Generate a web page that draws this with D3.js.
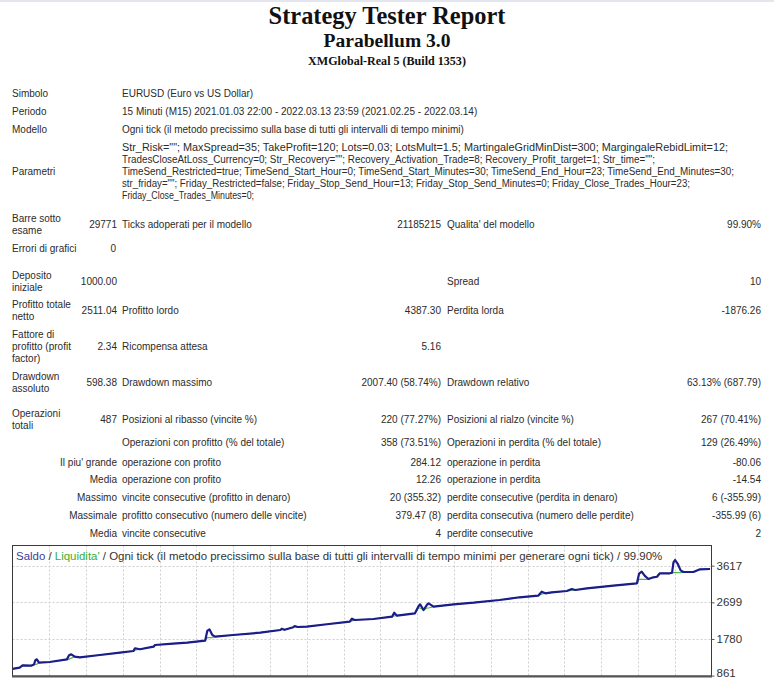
<!DOCTYPE html>
<html><head><meta charset="utf-8">
<script src="https://cdn.jsdelivr.net/npm/d3@7/dist/d3.min.js"></script>
<style>
html,body{margin:0;padding:0;background:#fff;overflow:hidden}
svg{display:block}
</style></head><body>
<svg id="c" width="774" height="680"></svg>
<script>
// ---- chart data ----
const tradeNo = [0,5,7,13,15,16,17,18.5,26,38,39.5,41,43.5,47,61,75,84.5,85.5,89,98.5,99.5,112,122,134.5,136,137.5,139.5,141.5,154,173,187,188,190,196,197,199,205.5,219.5,235.5,237,239,252,265,266.5,268.5,281,283.5,284.6,287,289.5,290.5,294,308,322,340,354,367,369.5,372,376.5,387,390.5,393,401,419.5,436,437.5,439.3,441.5,444,447.5,450,452,459,460.5,461.5,462.6,464.5,466.5,468.4,475.4,480,487];
const balance = [1030,1059,1115,1110,1140,1250,1270,1185,1202,1268,1370,1395,1335,1320,1378,1435,1478,1546,1521,1586,1628,1661,1686,1736,1980,2022,1880,1837,1879,1937,2005,2037,2010,2072,2105,2080,2087,2148,2213,2288,2255,2280,2338,2438,2363,2423,2600,2649,2506,2640,2674,2589,2649,2689,2757,2825,2865,2965,2925,2950,2983,3033,3008,3050,3116,3176,3420,3467,3360,3284,3326,3340,3427,3427,3440,3700,3760,3660,3500,3459,3459,3527,3534];
const equity  = [1030,1059,1115,1110,1140,1140,1150,1185,1202,1268,1268,1300,1335,1320,1378,1435,1478,1500,1521,1586,1628,1661,1686,1736,1812,1812,1812,1837,1879,1937,2005,2020,2010,2072,2080,2080,2087,2148,2213,2230,2255,2280,2338,2360,2363,2423,2556,2556,2506,2556,2556,2589,2649,2689,2757,2825,2865,2900,2925,2950,2983,3000,3008,3050,3116,3176,3276,3276,3276,3276,3326,3340,3427,3427,3442,3442,3442,3442,3442,3459,3459,3527,3534];
const yTickValues = [861,1780,2699,3617];
const totalTrades = 487;
const gridDivisions = 19;

const chartTitleParts = [
  {t:"Saldo", c:"#3d3d9a"},
  {t:" / ", c:"#333"},
  {t:"Liquidita'", c:"#35b035"},
  {t:" / Ogni tick (il metodo precissimo sulla base di tutti gli intervalli di tempo minimi per generare ogni tick) / 99.90%", c:"#333"}
];

// ---- report text ----
const headerLines = ["Strategy Tester Report","Parabellum 3.0","XMGlobal-Real 5 (Build 1353)"];
const paramLines = [
 'Str_Risk=""; MaxSpread=35; TakeProfit=120; Lots=0.03; LotsMult=1.5; MartingaleGridMinDist=300; MargingaleRebidLimit=12;',
 'TradesCloseAtLoss_Currency=0; Str_Recovery=""; Recovery_Activation_Trade=8; Recovery_Profit_target=1; Str_time="";',
 'TimeSend_Restricted=true; TimeSend_Start_Hour=0; TimeSend_Start_Minutes=30; TimeSend_End_Hour=23; TimeSend_End_Minutes=30;',
 'str_friday=""; Friday_Restricted=false; Friday_Stop_Send_Hour=13; Friday_Stop_Send_Minutes=0; Friday_Close_Trades_Hour=23;',
 'Friday_Close_Trades_Minutes=0;'
];
const paramLineWidths = [606, 533, 612, 568, 132];
// rows: [centerY, labelLines, value1, label2, value2, label3, value3]
const reportRows = [
 [93, ["Simbolo"], "", "EURUSD (Euro vs US Dollar)", "", "", ""],
 [111,["Periodo"], "", "15 Minuti (M15) 2021.01.03 22:00 - 2022.03.13 23:59 (2021.02.25 - 2022.03.14)", "", "", ""],
 [129,["Modello"], "", "Ogni tick (il metodo precissimo sulla base di tutti gli intervalli di tempo minimi)", "", "", ""],
 [171,["Parametri"], "", "", "", "", ""],
 [224,["Barre sotto","esame"], "29771", "Ticks adoperati per il modello", "21185215", "Qualita' del modello", "99.90%"],
 [248,["Errori di grafici"], "0", "", "", "", ""],
 [281,["Deposito","iniziale"], "1000.00", "", "", "Spread", "10"],
 [310,["Profitto totale","netto"], "2511.04", "Profitto lordo", "4387.30", "Perdita lorda", "-1876.26"],
 [346,["Fattore di","profitto (profit","factor)"], "2.34", "Ricompensa attesa", "5.16", "", ""],
 [382,["Drawdown","assoluto"], "598.38", "Drawdown massimo", "2007.40 (58.74%)", "Drawdown relativo", "63.13% (687.79)"],
 [419,["Operazioni","totali"], "487", "Posizioni al ribasso (vincite %)", "220 (77.27%)", "Posizioni al rialzo (vincite %)", "267 (70.41%)"],
 [442,[], "", "Operazioni con profitto (% del totale)", "358 (73.51%)", "Operazioni in perdita (% del totale)", "129 (26.49%)"],
 [462,[], "Il piu' grande", "operazione con profito", "284.12", "operazione in perdita", "-80.06"],
 [479,[], "Media", "operazione con profito", "12.26", "operazione in perdita", "-14.54"],
 [497,[], "Massimo", "vincite consecutive (profitto in denaro)", "20 (355.32)", "perdite consecutive (perdita in denaro)", "6 (-355.99)"],
 [515,[], "Massimale", "profitto consecutivo (numero delle vincite)", "379.47 (8)", "perdita consecutiva (numero delle perdite)", "-355.99 (6)"],
 [533,[], "Media", "vincite consecutive", "4", "perdite consecutive", "2"]
];

const svg = d3.select("#c");
const sans = '"Liberation Sans", Arial, sans-serif';
const serif = '"Liberation Serif", "Times New Roman", serif';
function fit(sel, w){
  const l = sel.node().getComputedTextLength();
  const fs = parseFloat(sel.attr("font-size"));
  if (l > 0) sel.attr("font-size", fs * w / l);
}

svg.append("rect").attr("x",0).attr("y",0).attr("width",774).attr("height",2).attr("fill","#e3e6ee");

// header
const hdr = [[24,24,237],[46.5,20,127],[64.5,12.5,158]];
headerLines.forEach((t,i)=>{
  const s = svg.append("text").attr("x",387).attr("y",hdr[i][0]).attr("text-anchor","middle")
    .attr("font-family",serif).attr("font-weight","bold").attr("font-size",hdr[i][1]).attr("fill","#111").text(t);
  fit(s, hdr[i][2]);
});

// report table
const col = {a:12, b:117, c:122, d:441, e:447, f:761};
const fs = 10, ink = "#2b2b2b", dy = 3.5;
const tg = svg.append("g").attr("font-family",sans).attr("font-size",fs).attr("fill",ink);
reportRows.forEach(r=>{
  const [cy, lab, v1, l2, v2, l3, v3] = r;
  const n = lab.length;
  lab.forEach((t,i)=>{
    tg.append("text").attr("x",col.a).attr("y",cy + (i-(n-1)/2)*12 + dy).text(t);
  });
  if (v1) tg.append("text").attr("x", v1==="0"?116:col.b).attr("y",cy+dy).attr("text-anchor","end").text(v1);
  if (l2) tg.append("text").attr("x",col.c).attr("y",cy+dy).text(l2);
  if (v2) tg.append("text").attr("x",col.d).attr("y",cy+dy).attr("text-anchor","end").text(v2);
  if (l3) tg.append("text").attr("x",col.e).attr("y",cy+dy).text(l3);
  if (v3) tg.append("text").attr("x",col.f).attr("y",cy+dy).attr("text-anchor","end").text(v3);
});
paramLines.forEach((t,i)=>{
  tg.append("text").attr("x",col.c).attr("y",147 + i*12.2 + dy)
    .attr("textLength",paramLineWidths[i]).attr("lengthAdjust","spacingAndGlyphs").text(t);
});

// ---- chart ----
const box = {l:12.5, t:545.5, r:711.5, b:676};
const x = d3.scaleLinear().domain([0,totalTrades]).range([box.l, 710]);
const y = d3.scaleLinear().domain([yTickValues[0], yTickValues[3]]).range([675.6, 565.7]);
const gx = d3.scaleLinear().domain([0,gridDivisions]).range([box.l, box.r]);

const cg = svg.append("g");
cg.append("rect").attr("x",box.l).attr("y",box.t).attr("width",box.r-box.l).attr("height",box.b-box.t)
  .attr("fill","#fff");
svg.append("clipPath").attr("id","clip").append("rect")
  .attr("x",box.l).attr("y",box.t).attr("width",box.r-box.l).attr("height",box.b-box.t);

// grid
cg.selectAll("line.vg").data(d3.range(1,gridDivisions)).join("line").attr("class","vg")
  .attr("x1",d=>Math.round(gx(d))+0.5).attr("x2",d=>Math.round(gx(d))+0.5)
  .attr("y1",box.t).attr("y2",box.b).attr("stroke","#cfcfcf").attr("stroke-dasharray","2,2");
cg.selectAll("line.hg").data(yTickValues.slice(1)).join("line").attr("class","hg")
  .attr("x1",box.l).attr("x2",box.r).attr("y1",d=>Math.round(y(d))+0.5).attr("y2",d=>Math.round(y(d))+0.5)
  .attr("stroke","#cfcfcf").attr("stroke-dasharray","2,2");

// chart title
const ct = cg.append("text").attr("x",16).attr("y",559.5).attr("font-family",sans).attr("font-size",11);
chartTitleParts.forEach(p=>ct.append("tspan").attr("fill",p.c).text(p.t));
fit(ct, 647);

// lines
const pts = tradeNo.map((n,i)=>({n, b:balance[i], e:equity[i]}));
const lg = cg.append("g").attr("clip-path","url(#clip)");
lg.append("path").datum(pts).attr("fill","none").attr("stroke","#4cbb4c").attr("stroke-width",1.2)
  .attr("d", d3.line().x(d=>x(d.n)).y(d=>y(d.e)));
lg.append("path").datum(pts).attr("fill","none").attr("stroke","#1c1c8a").attr("stroke-width",2.2)
  .attr("stroke-linejoin","round")
  .attr("d", d3.line().x(d=>x(d.n)).y(d=>y(d.b)));

// frame
cg.append("rect").attr("x",box.l).attr("y",box.t).attr("width",box.r-box.l).attr("height",box.b-box.t)
  .attr("fill","none").attr("stroke","#3a3a3a").attr("stroke-width",1);
cg.append("line").attr("x1",box.l-0.5).attr("x2",box.r+0.5).attr("y1",676.5).attr("y2",676.5)
  .attr("stroke","#555").attr("stroke-width",2);

// y axis
const ya = cg.append("g").attr("transform",`translate(${box.r},0)`)
  .call(d3.axisRight(y).tickValues(yTickValues).tickSize(3).tickPadding(2).tickFormat(d3.format("d")));
ya.select(".domain").remove();
ya.selectAll(".tick line").attr("stroke","#555");
ya.selectAll(".tick text").attr("font-family",sans).attr("font-size",11.5).attr("fill","#333")
  .attr("dy", d => d === yTickValues[0] ? "0.1em" : "0.32em");
</script>
</body></html>
